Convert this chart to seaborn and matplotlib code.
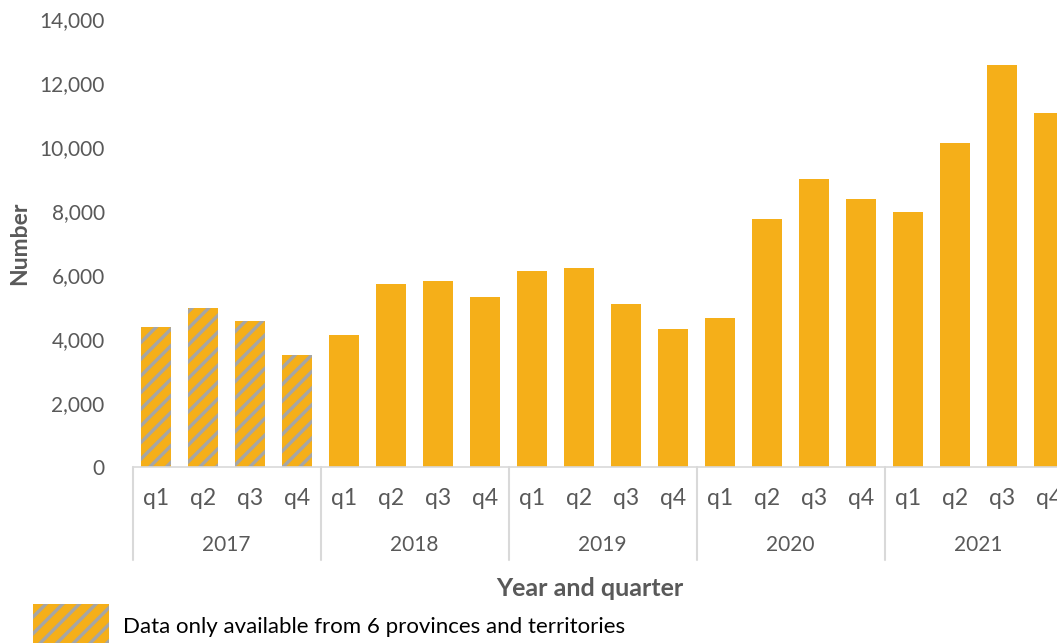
import numpy as np
import pandas as pd
import matplotlib
matplotlib.use("Agg")
import matplotlib.pyplot as plt
from matplotlib.patches import Rectangle
import seaborn as sns

# Values
years = ["2017", "2018", "2019", "2020", "2021"]
quarters = ["q1", "q2", "q3", "q4"]
counts = [4375, 4970, 4560, 3500,
          4115, 5720, 5810, 5310,
          6115, 6210, 5090, 4300,
          4660, 7750, 9000, 8375,
          7970, 10125, 12560, 11060]
partial_data = [True] * 4 + [False] * 16  # 2017: only 6 provinces/territories

bar_color = "#F5AF19"
hatch_gray = "#A5A5A5"
text_gray = "#595959"
line_gray = "#D9D9D9"

data = pd.DataFrame({
    "period": [f"{y}-{q}" for y in years for q in quarters],
    "quarter": [q for y in years for q in quarters],
    "year": [y for y in years for q in quarters],
    "count": counts,
})

sns.set_style("white")
plt.rcParams["font.family"] = ["Lato", "DejaVu Sans"]
plt.rcParams["hatch.linewidth"] = 2.4

fig = plt.figure(figsize=(10.57, 6.43), dpi=100)
# axes runs past the right edge like the cropped original
ax = fig.add_axes([132.5 / 1057, 176 / 643, 940 / 1057, 448 / 643])

sns.barplot(data=data, x="period", y="count", color=bar_color, width=0.64,
            saturation=1, ax=ax, linewidth=0)

for patch, partial in zip(ax.patches, partial_data):
    if partial:
        patch.set_edgecolor(hatch_gray)
        patch.set_hatch("//")
        patch.set_linewidth(0)

ax.set_xlim(-0.5, len(counts) - 0.5)
ax.set_ylim(0, 14000)
ax.set_yticks(np.arange(0, 14001, 2000))
ax.set_yticklabels([f"{v:,}" for v in range(0, 14001, 2000)])
ax.set_xticks(range(len(counts)))
ax.set_xticklabels(data["quarter"])
ax.tick_params(axis="both", length=0, labelsize=15, labelcolor=text_gray)
ax.tick_params(axis="x", labelsize=16.5, pad=15)
ax.tick_params(axis="y", pad=20)

for side in ["top", "right", "left"]:
    ax.spines[side].set_visible(False)
ax.spines["bottom"].set_color(line_gray)
ax.spines["bottom"].set_linewidth(1.2)

# year group labels and separators under the quarter labels
trans = ax.get_xaxis_transform()
for i, y in enumerate(years):
    ax.text(i * 4 + 1.5, -0.174, y, transform=trans, ha="center", va="center",
            fontsize=15, color=text_gray)
for b in range(len(years)):
    ax.plot([b * 4 - 0.5, b * 4 - 0.5], [0, -0.2076], transform=trans,
            color=line_gray, lw=1.5, clip_on=False)

ax.set_xlabel("")
ax.set_ylabel("Number", fontsize=16.5, fontweight="bold", color=text_gray,
              labelpad=7)
fig.text(590 / 1057, 1 - 588 / 643, "Year and quarter", ha="center",
         va="center", fontsize=18, fontweight="bold", color=text_gray)

# legend swatch for the hatched bars
fig.add_artist(Rectangle((33 / 1057, -0.01), 76 / 1057, 39 / 643 + 0.01,
                         transform=fig.transFigure, facecolor=bar_color,
                         edgecolor=hatch_gray, hatch="//", linewidth=0))
fig.text(123 / 1057, 1 - 627 / 643,
         "Data only available from 6 provinces and territories",
         ha="left", va="center", fontsize=16, color="black")

fig.savefig("out.png", dpi=100)
